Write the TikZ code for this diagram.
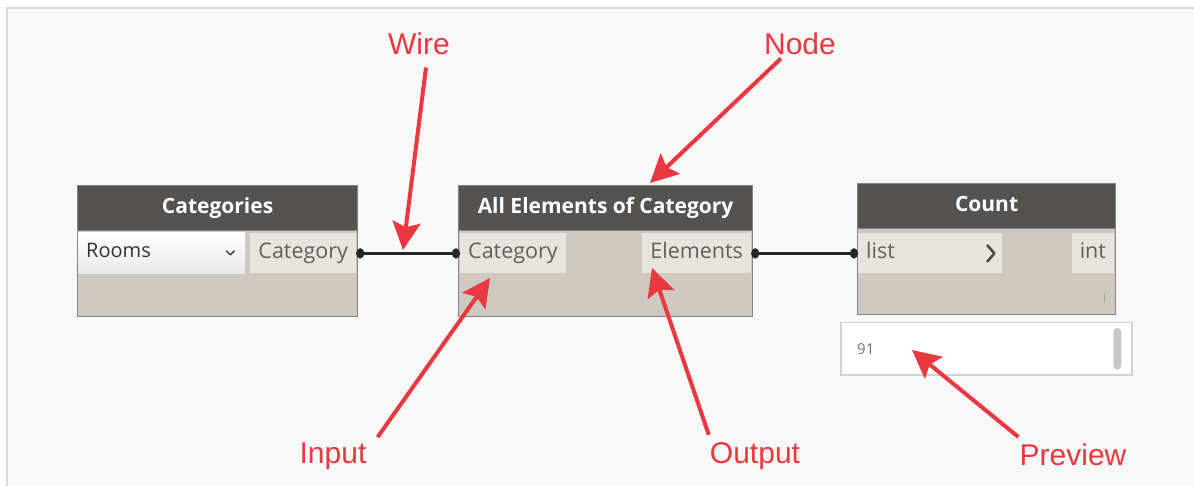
\documentclass[tikz,border=0pt]{standalone}
\usepackage{fontspec}
\setmainfont{Open Sans}
\newfontfamily\labelfont{Liberation Sans}
\usetikzlibrary{arrows.meta, positioning, calc}
\definecolor{cCanvas}{RGB}{248,248,248}
\definecolor{cFrame}{RGB}{218,218,218}
\definecolor{cHead}{RGB}{84,83,81}
\definecolor{cBody}{RGB}{205,201,193}
\definecolor{cEdge}{RGB}{132,130,126}
\definecolor{cPort}{RGB}{231,228,222}
\definecolor{cPortText}{RGB}{95,95,95}
\definecolor{cWire}{RGB}{38,38,38}
\definecolor{cRed}{RGB}{233,56,64}
\tikzset{
  nodebody/.style={rectangle, draw=cEdge, line width=1.2pt, fill=cBody,
                   anchor=north west, minimum height=131pt, inner sep=0pt},
  nodehead/.style={rectangle, draw=cEdge, line width=1.2pt, fill=cHead,
                   text=white, anchor=north west, minimum height=45pt,
                   inner sep=0pt, text height=15pt, text depth=4pt,
                   font=\fontsize{21}{24}\selectfont\bfseries},
  portbox/.style={rectangle, fill=cPort, text=cPortText, minimum height=40pt,
                  inner xsep=8pt, inner ysep=0pt, text height=15pt,
                  text depth=5pt, font=\fontsize{21.5}{24}\selectfont},
  dropbox/.style={portbox, top color=white, bottom color=black!9,
                  text=black!80, minimum height=41pt, text width=151pt,
                  align=left, font=\fontsize{20}{24}\selectfont},
  chevron/.style={line width=1.6pt, color=black!70, line cap=round,
                  line join=round},
  grip/.style={line width=1.4pt, color=black!35},
  prevbox/.style={rectangle, fill=white, draw=black!18, line width=1.5pt,
                  anchor=north west, minimum width=291pt, minimum height=52pt},
  prevtext/.style={text=black!55, inner sep=0pt,
                   font=\fontsize{15}{17}\selectfont},
  scrollbar/.style={rectangle, rounded corners=4pt, fill=black!22,
                    minimum width=8pt, minimum height=42pt, inner sep=0pt},
  wire/.style={{Circle[length=8pt, width=10pt]}-{Circle[length=8pt, width=10pt]},
               line width=3.5pt, color=cWire},
  calllabel/.style={text=cRed, anchor=base, inner sep=0pt,
                    font=\labelfont\fontsize{30}{30}\selectfont},
  callout/.style={-{Stealth[length=28pt, width=28pt, inset=5pt]},
                  line width=4pt, color=cRed}
}

\begin{document}
\begin{tikzpicture}[x=1pt, y=-1pt]
  \useasboundingbox (0,0) rectangle (1194,486);
  \fill[white] (0,0) rectangle (1194,486);
  \filldraw[fill=cCanvas, draw=cFrame, line width=2pt] (7,8) rectangle (1230,520);

  % Categories
  \node[nodebody, minimum width=280pt] (cat) at (77,185) {};
  \node[nodehead, minimum width=280pt] (cathead) at (cat.north west) {Categories};
  \node[dropbox, below right=1pt and 1pt of cathead.south west] (catdrop) {Rooms};
  \node[portbox, below left=2pt and 2pt of cathead.south east] (catout) {Category};
  \draw[chevron] ($(catdrop.east)+(-19,-2)$) -- ++(4,4) -- ++(4,-4);

  % All Elements of Category
  \node[nodebody, minimum width=294pt] (all) at (458,185) {};
  \node[nodehead, minimum width=294pt] (allhead) at (all.north west) {All Elements of Category};
  \node[portbox, below right=2pt and 2pt of allhead.south west] (allin) {Category};
  \node[portbox, below left=2pt and 2pt of allhead.south east] (allout) {Elements};

  % Count
  \node[nodebody, minimum width=258pt] (cnt) at (857,183) {};
  \node[nodehead, minimum width=258pt] (cnthead) at (cnt.north west) {Count};
  \node[portbox, text width=128pt, align=left,
        below right=4pt and 1pt of cnthead.south west] (cntin) {list};
  \node[portbox, below left=4pt and 2pt of cnthead.south east] (cntout) {int};
  \draw[chevron, line width=2.6pt] ($(cntin.east)+(-15,-8)$) -- ++(7,8) -- ++(-7,8);
  \draw[grip] ($(cnt.south east)+(-12,-12)$) -- ++(0,-10);

  \node[prevbox] (cntprev) at (840,322) {};
  \node[prevtext, right=17pt of cntprev.west] (prevval) {91};
  \node[scrollbar, left=11pt of cntprev.east] (prevbar) {};

  \foreach \from/\to in {catout/allin, allout/cntin}
    \draw[wire] (\from.east) -- (\to.west);

  % callouts
  \node[calllabel] (wirelbl) at (419,55) {Wire};
  \node[calllabel] (nodelbl) at (800,55) {Node};
  \node[calllabel] (inlbl) at (333,463) {Input};
  \node[calllabel] (outlbl) at (755,463) {Output};
  \node[calllabel] (prevlbl) at (1073,465) {Preview};

  \coordinate (wiretip) at (403,250);
  \coordinate (nodetip) at (650,183);
  \coordinate (intip) at (490,278);
  \coordinate (outtip) at (652,268);
  \coordinate (prevtip) at (912,350);

  \draw[callout] ($(wirelbl.south)+(7,12)$) -- (wiretip);
  \draw[callout] ($(nodelbl.south west)+(17,3)$) -- (nodetip);
  \draw[callout] ($(inlbl.north east)+(11,-5)$) -- (intip);
  \draw[callout] ($(outlbl.north west)+(-1,-7)$) -- (outtip);
  \draw[callout] ($(prevlbl.north west)+(-1,-6)$) -- (prevtip);
\end{tikzpicture}
\end{document}
